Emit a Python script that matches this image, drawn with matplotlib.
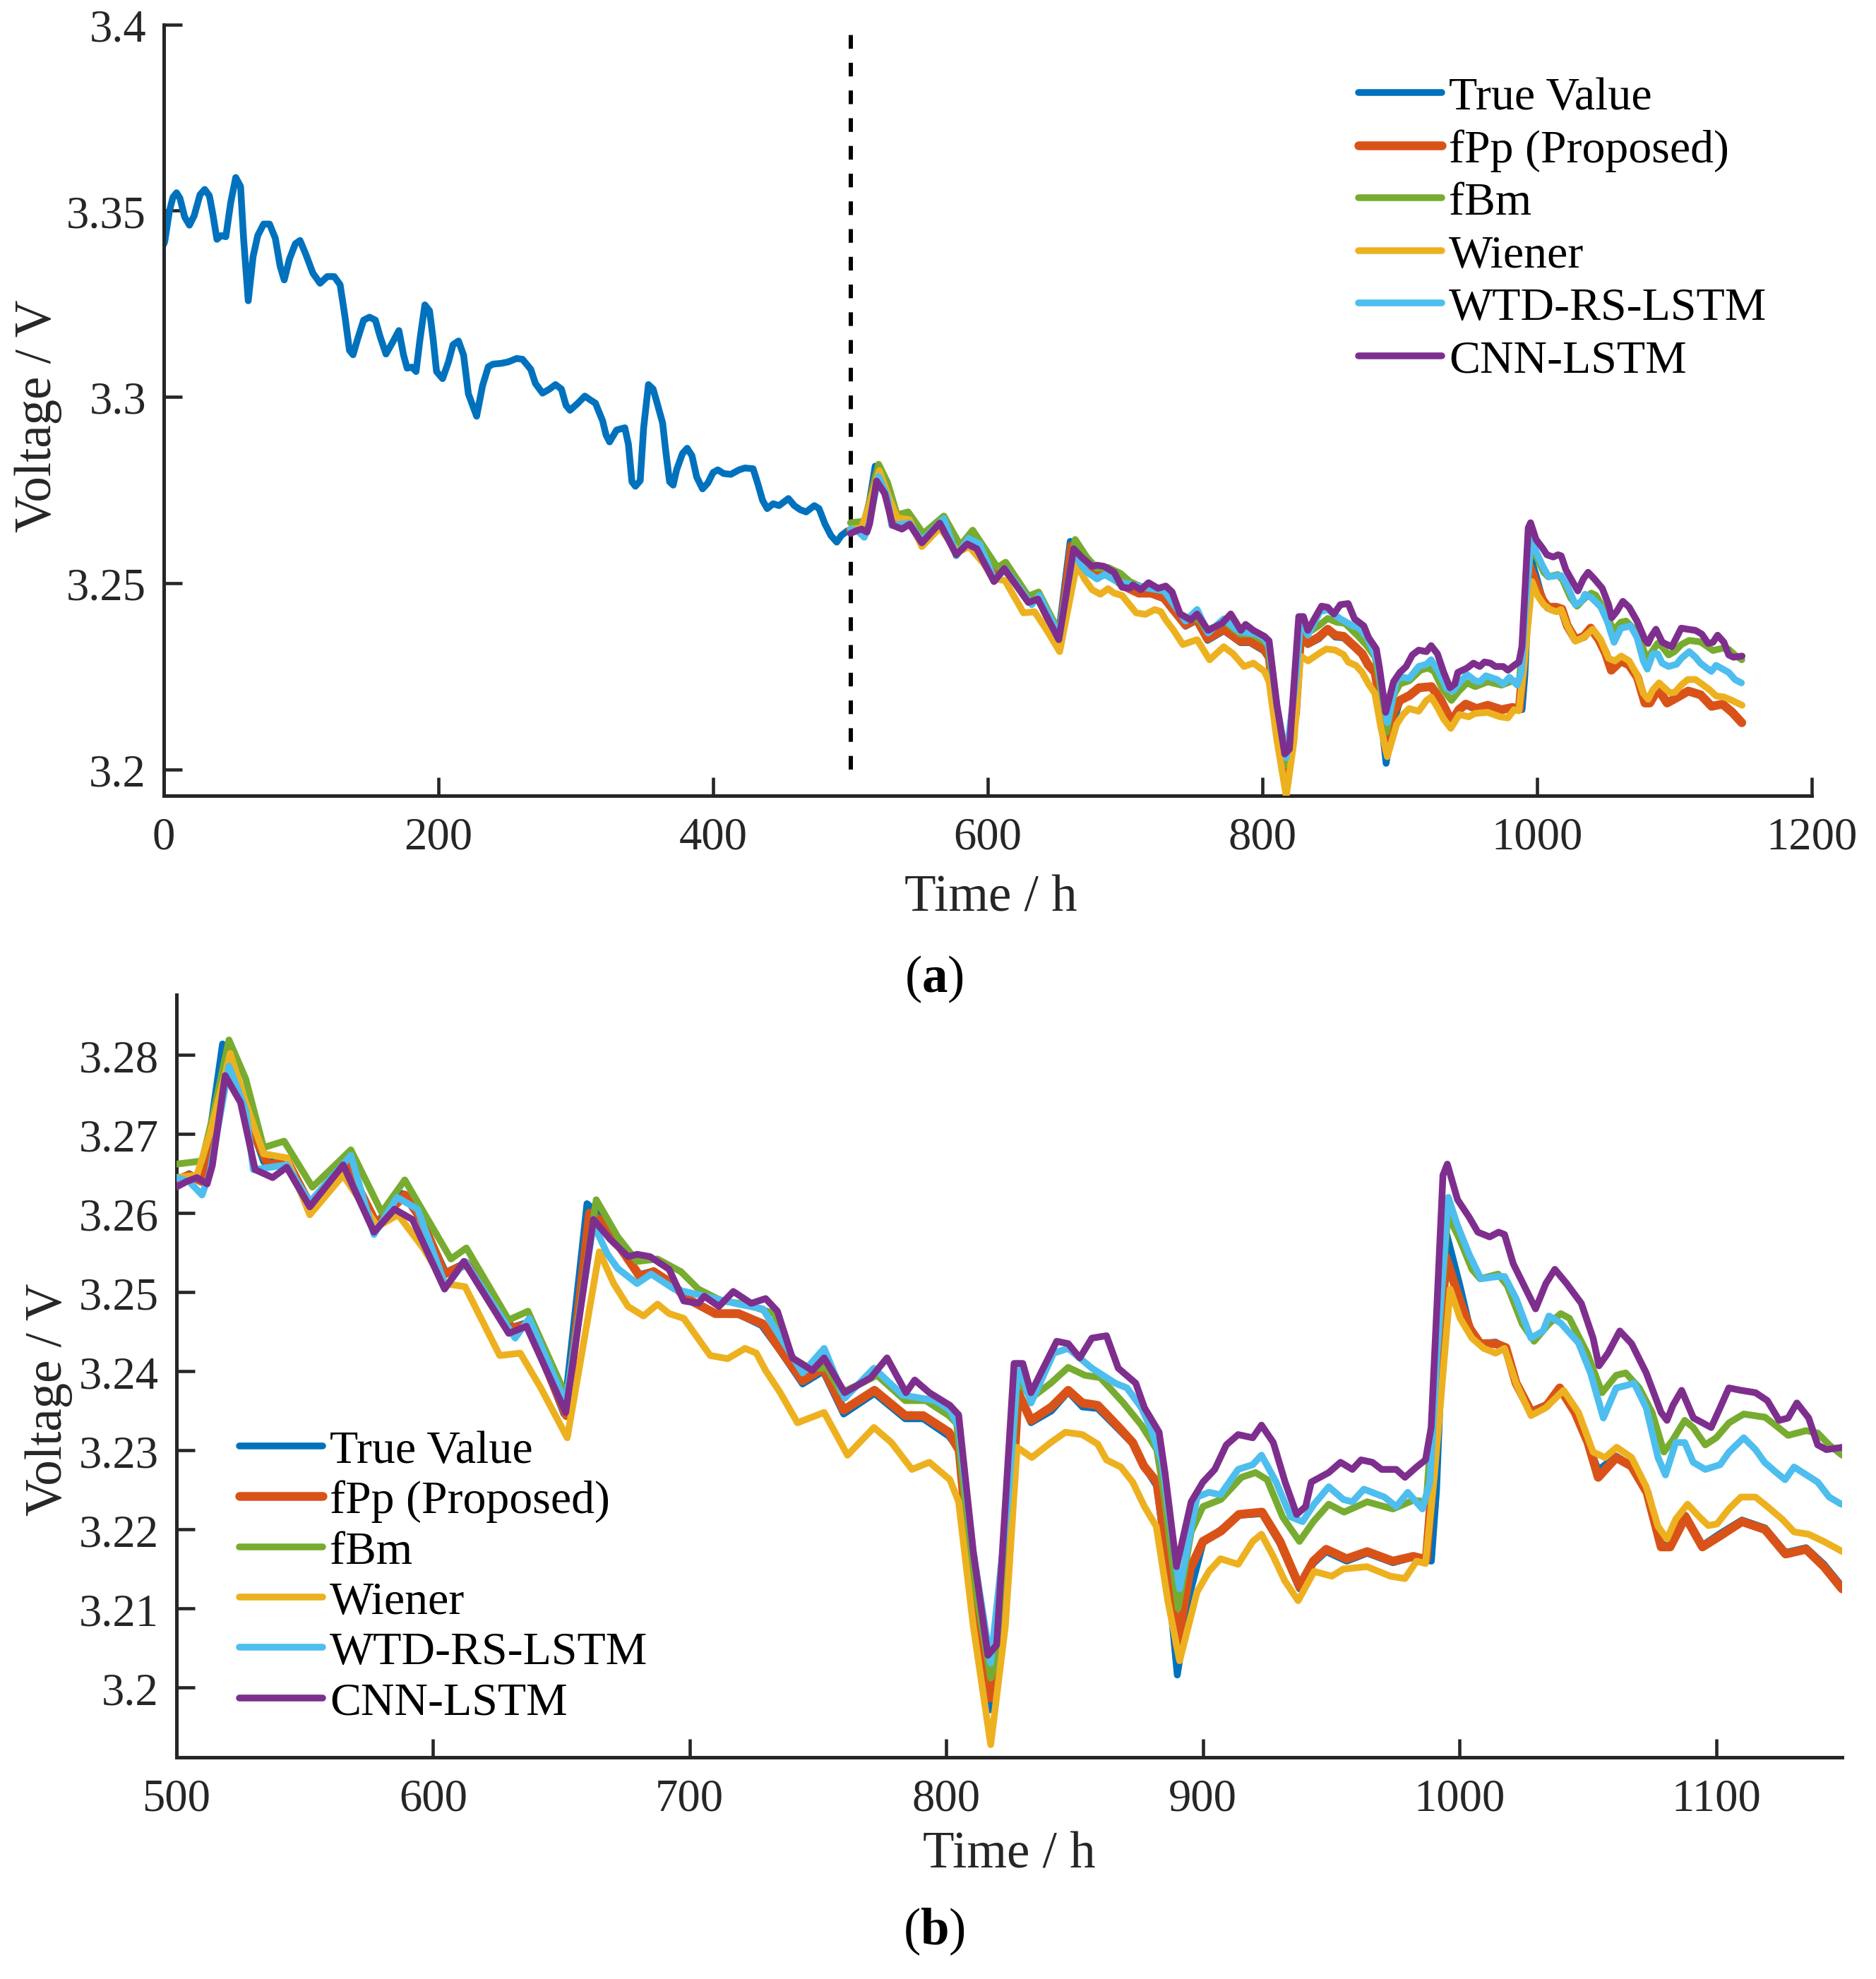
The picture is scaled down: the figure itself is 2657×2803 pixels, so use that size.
import matplotlib
matplotlib.use("Agg")
import matplotlib.pyplot as plt

plt.rcParams["font.family"] = ["Liberation Serif", "DejaVu Serif"]
plt.rcParams["mathtext.fontset"] = "custom"
plt.rcParams["mathtext.rm"] = "Liberation Serif"
plt.rcParams["mathtext.bf"] = "Liberation Serif:bold"

# history (0-500 h), true value only
HIST_T = [0, 0.7, 4.1, 6.7, 9.3, 11.8, 15.2, 18.7, 22.1, 26.4, 29.8, 33.2, 35.8, 38.7, 41.8,
          45.2, 48.7, 52.4, 55.9, 58.1, 61.5, 65, 68.4, 72.7, 77, 81.2, 84.7, 87.7, 91.5,
          95.8, 99.2, 103.5, 108.6, 113.8, 119, 124.1, 128.4, 131.8, 135.2, 137.8, 141.2,
          145.5, 149.8, 154.1, 157.5, 161.8, 166.1, 171.2, 174.6, 177.2, 180.6, 183.7,
          186.6, 190.1, 193.5, 196.1, 198.6, 203, 207.2, 210.6, 214.6, 218.3, 221.8, 227.8,
          232.1, 236.3, 239.8, 245.8, 250.9, 256.9, 261.2, 267.2, 270.6, 275.8, 280.9,
          285.2, 289.5, 292.9, 295.8, 301.5, 306.6, 310.9, 314.3, 319.5, 322, 324.6, 329.7,
          335.7, 338.3, 340.9, 343.4, 346.9, 349.4, 352.9, 356.3, 359.7, 363.2, 365.7,
          368.3, 370.9, 373.4, 377.7, 381.1, 384.6, 388, 392.3, 396.2, 400, 403.4, 407.7,
          412.9, 418.9, 423.1, 429.1, 432.6, 436, 439.4, 443.7, 448, 454.8, 459.1, 463.4,
          467.7, 473.7, 477.1, 481.4, 485.7, 490, 493.4, 497.7]
HIST_V = [3.3410, 3.3417, 3.3499, 3.3536, 3.3548, 3.3533, 3.3483, 3.3461, 3.3486, 3.3543,
          3.3557, 3.3540, 3.3489, 3.3423, 3.3433, 3.3430, 3.3521, 3.3589, 3.3565, 3.3426,
          3.3258, 3.3376, 3.3433, 3.3464, 3.3464, 3.3426, 3.3351, 3.3314, 3.3370, 3.3411,
          3.3420, 3.3382, 3.3332, 3.3305, 3.3323, 3.3323, 3.3301, 3.3219, 3.3125, 3.3113,
          3.3156, 3.3206, 3.3214, 3.3206, 3.3162, 3.3115, 3.3143, 3.3178, 3.3112, 3.3077,
          3.3080, 3.3068, 3.3156, 3.3247, 3.3231, 3.3156, 3.3068, 3.3049, 3.3093, 3.3140,
          3.3150, 3.3112, 3.3008, 3.2948, 3.3030, 3.3081, 3.3088, 3.3090, 3.3094, 3.3103,
          3.3101, 3.3074, 3.3036, 3.3010, 3.3021, 3.3033, 3.3021, 3.2977, 3.2964, 3.2983,
          3.3002, 3.2991, 3.2983, 3.2936, 3.2898, 3.2879, 3.2911, 3.2917, 3.2873, 3.2772,
          3.2760, 3.2775, 3.2917, 3.3033, 3.3021, 3.2977, 3.2930, 3.2848, 3.2772, 3.2763,
          3.2804, 3.2848, 3.2862, 3.2842, 3.2785, 3.2753, 3.2769, 3.2797, 3.2804, 3.2794,
          3.2792, 3.2804, 3.2809, 3.2807, 3.2766, 3.2722, 3.2700, 3.2713, 3.2708, 3.2727,
          3.2708, 3.2697, 3.2691, 3.2708, 3.2700, 3.2659, 3.2628, 3.2610, 3.2628, 3.2640]

TRUE_T = [500, 505, 510, 513, 518, 522, 528, 534, 543, 552, 565, 578, 588, 595, 605, 613,
          630, 637, 651, 660, 665, 672, 680, 686, 693, 699, 710, 719, 728, 735, 744, 752,
          760, 772, 784, 791, 801, 805, 810.5, 817, 824, 828, 833, 841, 847.5, 853, 859,
          867, 873, 877, 882, 886, 890, 895, 900, 907, 914, 923, 930, 937.6, 943, 948, 956,
          964, 974, 982, 989, 991, 995, 1000, 1004, 1008, 1014, 1018, 1022, 1028, 1034,
          1039, 1045, 1050, 1054, 1061, 1067, 1073, 1078.5, 1082, 1088, 1094.6, 1101.5,
          1110, 1119, 1127, 1135, 1142, 1149]
TRUE_V = [3.2640, 3.2650, 3.2640, 3.2700, 3.2814, 3.2790, 3.2720, 3.2665, 3.2668, 3.2612,
          3.2664, 3.2588, 3.2625, 3.2595, 3.2525, 3.2538, 3.2455, 3.2462, 3.2346, 3.2612,
          3.2598, 3.2560, 3.2522, 3.2527, 3.2512, 3.2492, 3.2473, 3.2472, 3.2458, 3.2427,
          3.2384, 3.2400, 3.2346, 3.2372, 3.2340, 3.2340, 3.2318, 3.2300, 3.2100, 3.1972,
          3.2150, 3.2373, 3.2335, 3.2350, 3.2374, 3.2355, 3.2353, 3.2327, 3.2307, 3.2280,
          3.2255, 3.2150, 3.2016, 3.2120, 3.2183, 3.2200, 3.2218, 3.2220, 3.2182, 3.2125,
          3.2157, 3.2172, 3.2160, 3.2170, 3.2158, 3.2165, 3.2160, 3.2250, 3.2573, 3.2510,
          3.2455, 3.2435, 3.2437, 3.2430, 3.2387, 3.2350, 3.2358, 3.2380, 3.2350, 3.2310,
          3.2275, 3.2293, 3.2280, 3.2250, 3.2180, 3.2182, 3.2218, 3.2180, 3.2195, 3.2212,
          3.2202, 3.2171, 3.2177, 3.2156, 3.2128]

FPP_T = [500, 505, 510, 513, 519, 523, 528, 536, 543, 552, 566, 578, 589, 595.5, 604.5,
         613, 631, 637, 652, 661, 664.7, 672, 680.6, 686, 693, 699, 710, 719, 728.5, 735,
         744, 752, 760, 772, 784, 791, 801, 805, 810.5, 817, 824, 828, 833, 841, 847.5,
         853, 859, 867, 872.6, 877, 882, 886, 890, 895, 900, 907, 914, 923, 930, 937.6,
         943, 948, 956, 964, 974, 982, 987, 990, 994.6, 1000, 1004, 1008, 1014, 1018, 1022,
         1028, 1034, 1039, 1045, 1050, 1054, 1061, 1067, 1073, 1078.5, 1082, 1088, 1094.6,
         1101.5, 1110, 1119, 1127, 1135, 1142, 1149]
FPP_V = [3.2642, 3.2648, 3.2640, 3.2690, 3.2790, 3.2770, 3.2715, 3.2660, 3.2667, 3.2611,
         3.2664, 3.2586, 3.2623, 3.2592, 3.2523, 3.2536, 3.2454, 3.2460, 3.2344, 3.2600,
         3.2592, 3.2561, 3.2520, 3.2526, 3.2511, 3.2492, 3.2473, 3.2473, 3.2460, 3.2429,
         3.2388, 3.2404, 3.2351, 3.2376, 3.2344, 3.2344, 3.2323, 3.2300, 3.2110, 3.1987,
         3.2150, 3.2373, 3.2338, 3.2355, 3.2376, 3.2360, 3.2357, 3.2330, 3.2310, 3.2280,
         3.2260, 3.2170, 3.2053, 3.2150, 3.2185, 3.2198, 3.2219, 3.2222, 3.2185, 3.2128,
         3.2160, 3.2175, 3.2163, 3.2172, 3.2160, 3.2166, 3.2162, 3.2285, 3.2545, 3.2490,
         3.2454, 3.2435, 3.2435, 3.2430, 3.2385, 3.2348, 3.2357, 3.2379, 3.2348, 3.2310,
         3.2266, 3.2291, 3.2280, 3.2247, 3.2178, 3.2178, 3.2216, 3.2178, 3.2192, 3.2210,
         3.2200, 3.2169, 3.2175, 3.2153, 3.2125]

FBM_T = [500, 510, 514, 520.5, 527, 534, 542, 553, 568, 580, 589, 607, 613, 629.5, 637,
         652, 663.6, 672, 679.5, 687.5, 696.6, 703.4, 712.5, 721.6, 733, 740, 746.7, 753.5,
         759, 767, 773, 784, 792, 801, 804, 810.5, 817.3, 821, 827.6, 833, 840.7, 847.5,
         854, 860, 869, 876, 882, 885, 890.3, 895.4, 900, 907, 915, 920.5, 925, 931, 937.6,
         943, 949, 955, 964, 974, 982, 987, 990, 995.4, 1000, 1004.8, 1008, 1015, 1018.6,
         1024.4, 1029, 1034.8, 1039.4, 1042.8, 1049.7, 1055.5, 1061, 1064.7, 1070, 1075,
         1079.6, 1083, 1087.7, 1091, 1095.7, 1100, 1105, 1110.7, 1119, 1123, 1128, 1135,
         1139.5, 1144, 1149]
FBM_V = [3.2662, 3.2666, 3.2720, 3.2819, 3.2770, 3.2683, 3.2691, 3.2633, 3.2680, 3.2601,
         3.2642, 3.2542, 3.2556, 3.2465, 3.2476, 3.2368, 3.2617, 3.2570, 3.2539, 3.2542,
         3.2526, 3.2504, 3.2489, 3.2485, 3.2473, 3.2417, 3.2404, 3.2404, 3.2373, 3.2385,
         3.2395, 3.2363, 3.2363, 3.2344, 3.2334, 3.2141, 3.2012, 3.2050, 3.2391, 3.2366,
         3.2385, 3.2405, 3.2395, 3.2392, 3.2360, 3.2332, 3.2301, 3.2240, 3.2100, 3.2197,
         3.2229, 3.2238, 3.2266, 3.2272, 3.2263, 3.2216, 3.2185, 3.2210, 3.2232, 3.2222,
         3.2235, 3.2226, 3.2237, 3.2235, 3.2373, 3.2598, 3.2567, 3.2529, 3.2517, 3.2523,
         3.2508, 3.2460, 3.2438, 3.2460, 3.2473, 3.2467, 3.2423, 3.2373, 3.2395, 3.2398,
         3.2379, 3.2348, 3.2298, 3.2313, 3.2338, 3.2329, 3.2307, 3.2316, 3.2335, 3.2346,
         3.2342, 3.2332, 3.2319, 3.2325, 3.2322, 3.2307, 3.2294]

WIENER_T = [500, 508, 513, 521, 527, 534, 543, 552, 565, 578.4, 586.4, 596.6, 604.5, 612.5,
            626, 634, 642, 652.3, 664.8, 670.4, 676, 682, 687.5, 692, 697.7, 708, 714.8,
            721.6, 726, 729.6, 735.3, 742, 752.4, 761.5, 771.8, 778.6, 786.6, 793.4, 801.4,
            804.8, 810.5, 817.3, 823, 827.6, 833.3, 840.7, 846.4, 853, 859, 862.4, 868,
            872.6, 877.2, 881.8, 886.3, 890.9, 897.7, 902.3, 906.8, 913.7, 919.4, 922.8,
            927.4, 931.9, 937.1, 943.3, 950.2, 954.7, 963.9, 973, 978.7, 983.2, 986.7,
            990.1, 996.3, 1000.2, 1004.8, 1009.4, 1014, 1017.5, 1022, 1027.8, 1033.6,
            1040.5, 1046.3, 1052, 1056.6, 1061.2, 1067, 1072.7, 1077.3, 1080.8, 1084.2,
            1088.8, 1093.4, 1096.9, 1100.3, 1104.9, 1109.6, 1115.3, 1119.9, 1125.7, 1130.3,
            1136, 1141.8, 1149.2]
WIENER_V = [3.2645, 3.2648, 3.2700, 3.2802, 3.2740, 3.2675, 3.2670, 3.2598, 3.2648, 3.2583,
            3.2598, 3.2554, 3.2511, 3.2507, 3.2420, 3.2423, 3.2379, 3.2316, 3.2551, 3.2511,
            3.2482, 3.2470, 3.2485, 3.2473, 3.2467, 3.2420, 3.2416, 3.2429, 3.2423, 3.2401,
            3.2373, 3.2335, 3.2348, 3.2294, 3.2329, 3.2310, 3.2276, 3.2285, 3.2263, 3.2235,
            3.2078, 3.1928, 3.2078, 3.2304, 3.2291, 3.2310, 3.2323, 3.2320, 3.2308, 3.2288,
            3.2279, 3.2260, 3.2229, 3.2204, 3.2110, 3.2034, 3.2121, 3.2147, 3.2163, 3.2156,
            3.2185, 3.2194, 3.2166, 3.2135, 3.2110, 3.2147, 3.2141, 3.2150, 3.2153, 3.2141,
            3.2138, 3.2160, 3.2157, 3.2266, 3.2504, 3.2467, 3.2442, 3.2429, 3.2423, 3.2429,
            3.2385, 3.2344, 3.2354, 3.2376, 3.2348, 3.2298, 3.2291, 3.2304, 3.2291, 3.2254,
            3.2204, 3.2188, 3.2213, 3.2232, 3.2216, 3.2205, 3.2207, 3.2226, 3.2241, 3.2241,
            3.2229, 3.2213, 3.2197, 3.2194, 3.2185, 3.2172]

WTD_T = [500, 505, 510, 513, 520.5, 527, 530, 543, 552, 568, 577, 586, 594, 605, 612.5,
         632, 637.5, 651.7, 662.5, 668, 672, 679.5, 685, 694, 702, 710, 719, 728.5, 735,
         744, 752.4, 760.4, 771.8, 783, 795.7, 801.4, 804.8, 810.5, 817.3, 824, 828, 833,
         841.8, 847.5, 856.7, 865.8, 870.4, 876, 879.5, 884, 890.9, 897.7, 902.3, 906.8,
         913.7, 919.4, 922.8, 928.5, 934.2, 938.8, 943.3, 949, 954.7, 958.2, 962.7, 970.7,
         975.3, 979.8, 985.5, 988.4, 991.2, 995.6, 999, 1003.7, 1008.3, 1015, 1017.5, 1022,
         1027.8, 1032.5, 1034.8, 1039.4, 1046.3, 1051, 1056, 1061, 1064.7, 1068, 1072.7,
         1077.3, 1080.2, 1084.2, 1087.7, 1091, 1095.7, 1101.5, 1105, 1110.7, 1115.3,
         1118.8, 1123.4, 1126.8, 1130.3, 1133.7, 1139.5, 1144, 1148.7]
WTD_V = [3.2645, 3.2640, 3.2623, 3.2650, 3.2786, 3.2730, 3.2655, 3.2661, 3.2614, 3.2673,
         3.2573, 3.2620, 3.2605, 3.2507, 3.2539, 3.2442, 3.2467, 3.2360, 3.2586, 3.2548,
         3.2530, 3.2511, 3.2523, 3.2504, 3.2498, 3.2492, 3.2485, 3.2479, 3.2445, 3.2398,
         3.2429, 3.2366, 3.2404, 3.2370, 3.2363, 3.2351, 3.2329, 3.2172, 3.2031, 3.2235,
         3.2410, 3.2360, 3.2423, 3.2429, 3.2404, 3.2385, 3.2379, 3.2354, 3.2329, 3.2285,
         3.2125, 3.2241, 3.2247, 3.2244, 3.2276, 3.2282, 3.2294, 3.2260, 3.2216, 3.2210,
         3.2232, 3.2254, 3.2238, 3.2235, 3.2251, 3.2241, 3.2229, 3.2247, 3.2226, 3.2260,
         3.2423, 3.2620, 3.2586, 3.2548, 3.2517, 3.2520, 3.2520, 3.2492, 3.2442, 3.2451,
         3.2470, 3.2461, 3.2436, 3.2398, 3.2341, 3.2379, 3.2382, 3.2385, 3.2354, 3.2291,
         3.2269, 3.2310, 3.2310, 3.2285, 3.2276, 3.2282, 3.2298, 3.2316, 3.2301, 3.2285,
         3.2272, 3.2263, 3.2279, 3.2272, 3.2260, 3.2241, 3.2232]

CNN_T = [500, 504, 508, 512, 514, 519, 525, 530.7, 537.5, 543, 552, 565, 577, 585, 592,
         604.5, 612, 629.5, 636.4, 651.7, 662.5, 669, 676, 679.5, 684.6, 692, 697.7, 703.4,
         705.7, 711.4, 717, 724, 729.6, 734.2, 740, 747.8, 752.4, 760.4, 770.6, 776.9,
         784.3, 787.7, 793.4, 801.4, 804.8, 810.5, 816.2, 819.6, 826.4, 829.8, 833, 843,
         847.5, 852, 856.7, 862.4, 867, 873.8, 877.2, 882.9, 885.2, 889.7, 895.4, 900,
         904.6, 909.1, 913.7, 919.4, 922.8, 927.4, 932, 936.5, 940, 942.2, 949, 953.6,
         958.2, 961.6, 966, 969.6, 975.3, 978.7, 983.2, 986.7, 988.9, 991.2, 993.5, 995.2,
         999.2, 1003.7, 1007.1, 1011.7, 1015.2, 1017.5, 1020.9, 1026.7, 1029.6, 1033.6,
         1037.1, 1041.7, 1047.4, 1052, 1054.3, 1057.8, 1062.4, 1067, 1072.7, 1078.5,
         1080.8, 1083.1, 1086.5, 1091.1, 1094.6, 1098, 1101.5, 1104.9, 1109.6, 1115.3,
         1119.9, 1124.5, 1128, 1131.4, 1136, 1139.5, 1142.9, 1149.2]
CNN_V = [3.2633, 3.2640, 3.2645, 3.2637, 3.2660, 3.2774, 3.2740, 3.2655, 3.2645, 3.2658,
         3.2608, 3.2661, 3.2576, 3.2605, 3.2592, 3.2504, 3.2539, 3.2448, 3.2457, 3.2348,
         3.2592, 3.2567, 3.2545, 3.2548, 3.2545, 3.2529, 3.2489, 3.2486, 3.2495, 3.2482,
         3.2501, 3.2486, 3.2492, 3.2476, 3.2417, 3.2401, 3.2417, 3.2373, 3.2392, 3.2417,
         3.2373, 3.2389, 3.2373, 3.2357, 3.2345, 3.2172, 3.2041, 3.2054, 3.2410, 3.2410,
         3.2373, 3.2438, 3.2435, 3.2417, 3.2442, 3.2445, 3.2404, 3.2385, 3.2354, 3.2323,
         3.2272, 3.2153, 3.2235, 3.2260, 3.2276, 3.2307, 3.2320, 3.2316, 3.2332, 3.2310,
         3.2260, 3.2219, 3.2229, 3.2260, 3.2272, 3.2285, 3.2276, 3.2288, 3.2285, 3.2276,
         3.2276, 3.2266, 3.2279, 3.2288, 3.2329, 3.2486, 3.2648, 3.2662, 3.2617, 3.2595,
         3.2576, 3.2570, 3.2576, 3.2573, 3.2536, 3.2498, 3.2479, 3.2511, 3.2529, 3.2511,
         3.2486, 3.2442, 3.2407, 3.2423, 3.2451, 3.2435, 3.2398, 3.2348, 3.2338, 3.2357,
         3.2376, 3.2341, 3.2335, 3.2329, 3.2354, 3.2379, 3.2376, 3.2373, 3.2363, 3.2338,
         3.2341, 3.2360, 3.2341, 3.2307, 3.2301, 3.2304]

NAMES = ["True Value", "fPp (Proposed)", "fBm", "Wiener", "WTD-RS-LSTM", "CNN-LSTM"]
COLORS = ["#0072BD", "#D95319", "#77AC30", "#EDB120", "#4DBEEE", "#7E2F8E"]
WIDTHS = [2.3, 3.0, 2.3, 2.3, 2.3, 2.3]

AX_COLOR = "#262626"

fig = plt.figure(figsize=(2657 / 300, 2804 / 300), dpi=300)
ax_a = fig.add_axes([0.0873, 0.5977, 0.8785, 0.3896])
ax_b = fig.add_axes([0.0940, 0.1120, 0.8879, 0.3851])

series = [
    (TRUE_T, TRUE_V),
    (FPP_T, FPP_V),
    (FBM_T, FBM_V),
    (WIENER_T, WIENER_V),
    (WTD_T, WTD_V),
    (CNN_T, CNN_V),
]

# panel (a): full history + predictions
for i, (t, v) in enumerate(series):
    if i == 0:
        t = HIST_T + t
        v = HIST_V + v
    ax_a.plot(t, v, color=COLORS[i], lw=WIDTHS[i], label=NAMES[i],
              solid_joinstyle="round", solid_capstyle="round", zorder=2 + i)
ax_a.plot([500, 500], [3.2, 3.4], color="black", lw=1.45, ls=(0, (3.2, 3.3)), zorder=1)
ax_a.set_xlim(0, 1200)
ax_a.set_ylim(3.1929, 3.4)
ax_a.set_xticks([0, 200, 400, 600, 800, 1000, 1200])
ax_a.set_yticks([3.2, 3.25, 3.3, 3.35, 3.4])
ax_a.set_yticklabels(["3.2", "3.25", "3.3", "3.35", "3.4"])

# panel (b): zoom on prediction window
for i, (t, v) in enumerate(series):
    ax_b.plot(t, v, color=COLORS[i], lw=WIDTHS[i], label=NAMES[i],
              solid_joinstyle="round", solid_capstyle="round", zorder=2 + i)
ax_b.set_xlim(500, 1149)
ax_b.set_ylim(3.1912, 3.2876)
ax_b.set_xticks([500, 600, 700, 800, 900, 1000, 1100])
yb = [3.2, 3.21, 3.22, 3.23, 3.24, 3.25, 3.26, 3.27, 3.28]
ax_b.set_yticks(yb)
ax_b.set_yticklabels(["3.2"] + ["%.2f" % y for y in yb[1:]])

for ax in (ax_a, ax_b):
    for side in ("top", "right"):
        ax.spines[side].set_visible(False)
    for side in ("left", "bottom"):
        ax.spines[side].set_color(AX_COLOR)
        ax.spines[side].set_linewidth(1.2)
    ax.tick_params(direction="in", length=6.2, width=1.1, colors=AX_COLOR,
                   labelsize=15.5, labelcolor=AX_COLOR)
    ax.tick_params(axis="y", pad=6)
    ax.tick_params(axis="x", pad=7)

leg_kw = dict(frameon=False, fontsize=15.8, handlelength=1.8, handletextpad=0.15,
              borderpad=0, borderaxespad=0)
ax_a.legend(loc="upper left", bbox_to_anchor=(0.7248, 0.9333), labelspacing=0.22, **leg_kw)
ax_b.legend(loc="upper left", bbox_to_anchor=(0.0378, 0.430), labelspacing=0.17, **leg_kw)

fig.text(0.528, 0.5462, "Time / h", ha="center", va="center", fontsize=17.5, color=AX_COLOR)
fig.text(0.0205, 0.790, "Voltage / V", ha="center", va="center", rotation=90,
         fontsize=17.5, color=AX_COLOR)
fig.text(0.538, 0.0628, "Time / h", ha="center", va="center", fontsize=17.5, color=AX_COLOR)
fig.text(0.026, 0.293, "Voltage / V", ha="center", va="center", rotation=90,
         fontsize=17.5, color=AX_COLOR)
fig.text(0.498, 0.5054, r"($\mathbf{a}$)", ha="center", va="center", fontsize=17.5)
fig.text(0.498, 0.0242, r"($\mathbf{b}$)", ha="center", va="center", fontsize=17.5)

fig.savefig("out.png", dpi=300, facecolor="white")
